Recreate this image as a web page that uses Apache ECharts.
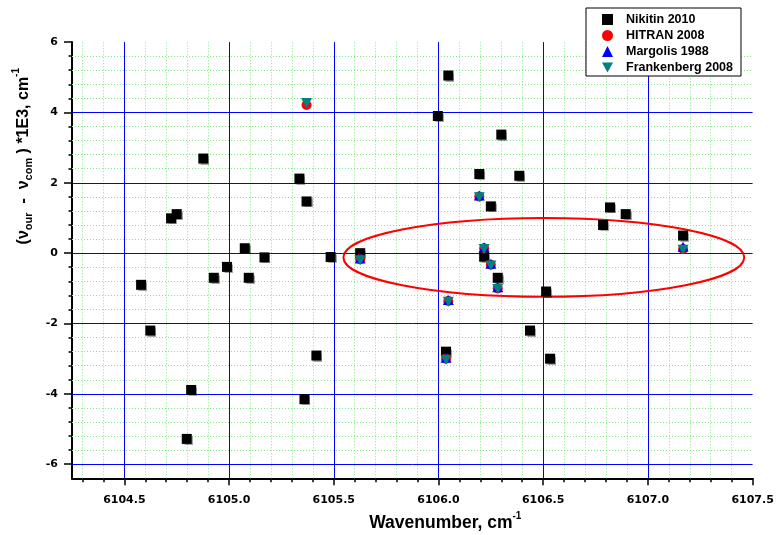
<!DOCTYPE html>
<html>
<head>
<meta charset="utf-8">
<script src="https://cdn.jsdelivr.net/npm/echarts@6/dist/echarts.min.js"></script>
<style>
  html, body { margin: 0; padding: 0; background: #ffffff; }
  #chart { width: 777px; height: 535px; }
</style>
</head>
<body>
<div id="chart"></div>
<script>
// Line positions (cm-1) and differences (x1E3 cm-1) for each comparison source
const nikitinX = [6104.580, 6104.624, 6104.723, 6104.750, 6104.798, 6104.819, 6104.877, 6104.927,
                  6104.990, 6105.075, 6105.094, 6105.169, 6105.336, 6105.360, 6105.370, 6105.417,
                  6105.485, 6105.626, 6105.997, 6106.036, 6106.047, 6106.195, 6106.218, 6106.250,
                  6106.283, 6106.300, 6106.386, 6106.437, 6106.514, 6106.533, 6106.786, 6106.819,
                  6106.894, 6107.168];
const nikitinY = [-0.90, -2.20, 0.99, 1.11, -5.28, -3.89, 2.69, -0.70,
                  -0.39, 0.14, -0.70, -0.12, 2.12, -4.15, 1.47, -2.91,
                  -0.11, 0.00, 3.90, -2.80, 5.05, 2.25, -0.10, 1.33,
                  -0.70, 3.37, 2.20, -2.20, -1.09, -3.00, 0.80, 1.30,
                  1.11, 0.50];

const hitranX = [6105.370, 6105.626, 6106.036, 6106.047, 6106.195, 6106.218, 6106.250, 6106.283, 6107.168];
const hitranY = [4.21, -0.17, -3.00, -1.36, 1.61, 0.14, -0.33, -1.00, 0.12];

const margolisX = [6105.626, 6106.036, 6106.047, 6106.195, 6106.218, 6106.250, 6106.283, 6107.168];
const margolisY = [-0.15, -2.97, -1.33, 1.64, 0.17, -0.30, -0.97, 0.18];

const frankenbergX = [6105.370, 6105.626, 6106.036, 6106.047, 6106.195, 6106.218, 6106.250, 6106.283, 6107.168];
const frankenbergY = [4.27, -0.20, -3.03, -1.38, 1.59, 0.12, -0.35, -1.02, 0.10];

// Axis ticks
const xMajorTicks = [6104.5, 6105.0, 6105.5, 6106.0, 6106.5, 6107.0, 6107.5];
const xMinorTicks = [6104.3, 6104.4, 6104.6, 6104.7, 6104.8, 6104.9,
                     6105.1, 6105.2, 6105.3, 6105.4, 6105.6, 6105.7, 6105.8, 6105.9,
                     6106.1, 6106.2, 6106.3, 6106.4, 6106.6, 6106.7, 6106.8, 6106.9,
                     6107.1, 6107.2, 6107.3, 6107.4];
const yMajorTicks = [-6, -4, -2, 0, 2, 4, 6];
const yMinorTicks = [-5.6, -5.2, -4.8, -4.4, -3.6, -3.2, -2.8, -2.4, -1.6, -1.2, -0.8, -0.4,
                     0.4, 0.8, 1.2, 1.6, 2.4, 2.8, 3.2, 3.6, 4.4, 4.8, 5.2, 5.6];
// Major grid lines (the top/right ends of the frame carry none)
const xGridMajor = [6104.5, 6105.0, 6105.5, 6106.0, 6106.5, 6107.0];
const yGridMajor = [-6, -4, -2, 0, 2, 4];

// Highlighted group: centre x, centre y, half-width, half-height (data units)
const highlight = [6106.503, -0.12, 0.957, 1.12];

const X_MIN = 6104.25, X_MAX = 6107.5, Y_MIN = -6.4, Y_MAX = 6;

const pairs = (xs, ys) => xs.map((x, i) => [x, ys[i]]);

const tickFont = { fontFamily: 'DejaVu Sans', fontWeight: 'bold', fontSize: 11, color: '#000' };
const nameFont = 'Liberation Sans';

const chart = echarts.init(document.getElementById('chart'), null, { renderer: 'canvas' });

// secondary axes only carry the short (minor) ticks
const hiddenAxisParts = {
  axisLine: { show: false, onZero: false },
  axisLabel: { show: false },
  splitLine: { show: false }
};

chart.setOption({
  animation: false,
  backgroundColor: '#ffffff',
  grid: { left: 72, right: 24.4, top: 42.1, bottom: 56.7, containLabel: false, outerBoundsMode: 'none' },
  legend: {
    orient: 'vertical',
    left: 586,
    top: 8,
    z: 30,
    data: ['Nikitin 2010', 'HITRAN 2008', 'Margolis 1988', 'Frankenberg 2008'],
    itemWidth: 11,
    itemHeight: 11,
    itemGap: 3,
    padding: [5, 8, 2, 16],
    borderColor: '#000',
    borderWidth: 1,
    borderRadius: 0,
    backgroundColor: '#ffffff',
    selectedMode: false,
    textStyle: { fontFamily: nameFont, fontWeight: 'bold', fontSize: 12.5, color: '#000', padding: [0, 0, 0, 8] }
  },
  xAxis: [
    {
      type: 'value', min: X_MIN, max: X_MAX, position: 'bottom',
      axisLine: { show: true, onZero: false, lineStyle: { color: '#000', width: 2 } },
      axisTick: { show: true, inside: false, length: 7, customValues: xMajorTicks, lineStyle: { color: '#000', width: 1.5 } },
      axisLabel: Object.assign({ show: true, margin: 16, customValues: xMajorTicks, formatter: v => v.toFixed(1) }, tickFont),
      splitLine: { show: false },
      name: 'Wavenumber, cm{sup|-1}',
      nameLocation: 'middle',
      nameGap: 33,
      nameTextStyle: {
        fontFamily: nameFont, fontWeight: 'bold', fontSize: 17.5, color: '#000',
        padding: [0, 0, 0, 66],
        rich: { sup: { fontFamily: nameFont, fontWeight: 'bold', fontSize: 10, color: '#000', padding: [0, 0, 14, 0] } }
      }
    },
    Object.assign({
      type: 'value', min: X_MIN, max: X_MAX, position: 'bottom', offset: 0,
      axisTick: { show: true, inside: false, length: 4, customValues: xMinorTicks, lineStyle: { color: '#000', width: 1.5 } }
    }, hiddenAxisParts)
  ],
  yAxis: [
    {
      type: 'value', min: Y_MIN, max: Y_MAX, position: 'left',
      axisLine: { show: true, onZero: false, lineStyle: { color: '#000', width: 2 } },
      axisTick: { show: true, inside: false, length: 8, customValues: yMajorTicks, lineStyle: { color: '#000', width: 1.5 } },
      axisLabel: Object.assign({ show: true, margin: 14, customValues: yMajorTicks }, tickFont),
      splitLine: { show: false },
      name: '(ν{sub|our}  -  ν{sub|com} ) *1E3, cm{sup|-1}',
      nameLocation: 'middle',
      nameGap: 34,
      nameTextStyle: {
        fontFamily: nameFont, fontWeight: 'bold', fontSize: 16, color: '#000',
        padding: [0, 0, 0, 208],
        rich: {
          sub: { fontFamily: nameFont, fontWeight: 'bold', fontSize: 11, color: '#000', padding: [12, 0, 0, 0] },
          sup: { fontFamily: nameFont, fontWeight: 'bold', fontSize: 10, color: '#000', padding: [0, 0, 14, 0] }
        }
      }
    },
    Object.assign({
      type: 'value', min: Y_MIN, max: Y_MAX, position: 'left', offset: 0,
      axisTick: { show: true, inside: false, length: 3.5, customValues: yMinorTicks, lineStyle: { color: '#000', width: 1.5 } }
    }, hiddenAxisParts)
  ],
  series: [
    {
      // dotted minor grid
      type: 'line', data: [], silent: true, z: 1,
      markLine: {
        silent: true, animation: false, symbol: ['none', 'none'], label: { show: false },
        emphasis: { disabled: true }, z: 1,
        lineStyle: { color: '#80e880', width: 1, type: [1, 2] },
        data: xMinorTicks.map(v => ({ xAxis: v })).concat(yMinorTicks.map(v => ({ yAxis: v })))
      }
    },
    {
      // solid major grid
      type: 'line', data: [], silent: true, z: 2,
      markLine: {
        silent: true, animation: false, symbol: ['none', 'none'], label: { show: false },
        emphasis: { disabled: true }, z: 2,
        lineStyle: { color: '#0000ff', width: 1, type: 'solid' },
        data: xGridMajor.map(v => ({ xAxis: v })).concat(yGridMajor.map(v => ({ yAxis: v })))
      }
    },
    {
      // outline around the highlighted group of lines
      type: 'custom', silent: true, z: 9,
      data: [highlight],
      encode: { x: 0, y: 1 },
      renderItem: function (params, api) {
        const c = api.coord([api.value(0), api.value(1)]);
        const e = api.coord([api.value(0) + api.value(2), api.value(1) + api.value(3)]);
        return {
          type: 'ellipse',
          shape: { cx: c[0], cy: c[1], rx: Math.abs(e[0] - c[0]), ry: Math.abs(c[1] - e[1]) },
          style: { fill: 'none', stroke: '#ff0000', lineWidth: 2 }
        };
      }
    },
    {
      name: 'Nikitin 2010', type: 'scatter', z: 10,
      symbol: 'rect', symbolSize: 10,
      itemStyle: { color: '#000000', opacity: 1, shadowColor: 'rgba(0,0,0,0.35)', shadowBlur: 1, shadowOffsetX: 1, shadowOffsetY: 1 },
      data: pairs(nikitinX, nikitinY)
    },
    {
      name: 'HITRAN 2008', type: 'scatter', z: 11,
      symbol: 'circle', symbolSize: 10,
      itemStyle: { color: '#ff0000', opacity: 1 },
      data: pairs(hitranX, hitranY)
    },
    {
      name: 'Margolis 1988', type: 'scatter', z: 12,
      symbol: 'triangle', symbolSize: [11, 10],
      itemStyle: { color: '#0000ff', opacity: 1 },
      data: pairs(margolisX, margolisY)
    },
    {
      name: 'Frankenberg 2008', type: 'scatter', z: 13,
      symbol: 'path://M0,0L10,0L5,9Z', symbolSize: [11, 10],
      itemStyle: { color: '#008080', opacity: 1 },
      data: pairs(frankenbergX, frankenbergY)
    }
  ]
});
</script>
</body>
</html>
